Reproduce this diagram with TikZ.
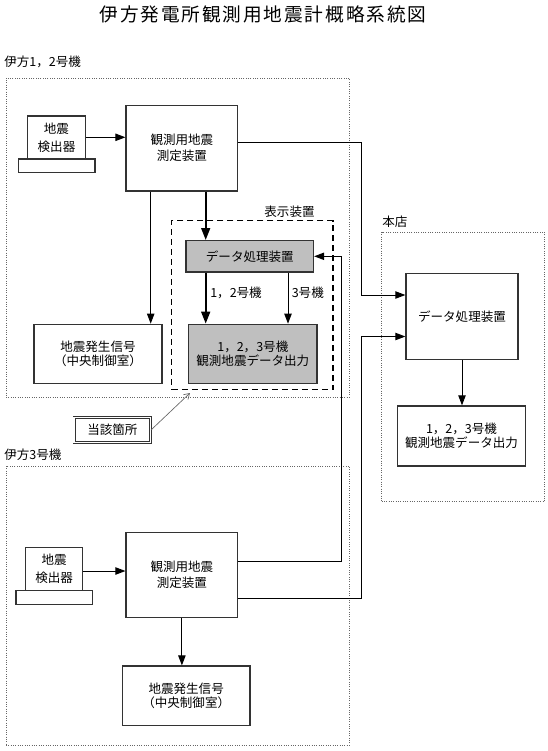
\documentclass[tikz,border=0pt]{standalone}
\usepackage{fontspec}
\setmainfont{Noto Sans CJK JP}
\newfontfamily\titlefont[LetterSpace=10]{Noto Sans CJK JP}
\usetikzlibrary{arrows.meta}
\def\upx{0.75pt}
\tikzset{
  box/.style={draw=black!80, line width=0.9pt, fill=white, align=center, inner sep=0pt,
    font=\fontsize{9.4}{12}\selectfont},
  graybox/.style={box, fill=gray!50},
  zone/.style={draw=black!60, densely dotted, line width=0.75pt},
  dispzone/.style={draw=black, dash pattern=on 4.5pt off 3pt, line width=0.9pt},
  arr/.style={line width=0.75pt, -{Triangle[length=7.5pt,width=5.5pt]}},
  thickarr/.style={line width=1.7pt, -{Triangle[length=9pt,width=6.5pt]}},
  lab/.style={font=\fontsize{9.4}{12}\selectfont, inner sep=0pt},
  pointer/.style={draw=black!60, line width=0.5pt, -{Straight Barb[length=4pt,width=5pt]}},
}
\begin{document}
\begin{tikzpicture}[x=0.75pt,y=-0.75pt]
\useasboundingbox (0,0) rectangle (548,751);

% title
\node[inner sep=0pt] (title) at (263,14) {\titlefont\fontsize{14}{16}\selectfont 伊方発電所観測用地震計概略系統図};

% zones
\node[zone, minimum width=343.5*\upx, minimum height=319*\upx] (zone12) at (177.75,237.5) {};
\node[zone, minimum width=343.5*\upx, minimum height=279*\upx] (zone3) at (177.75,605.5) {};
\node[zone, minimum width=163*\upx, minimum height=269.4*\upx] (zonehq) at (463.2,367) {};
\node[dispzone, minimum width=161.3*\upx, minimum height=169*\upx] (zonedisp) at (252.4,305.1) {};

% labels
\node[lab, anchor=west] (lab12) at (4,62) {伊方1，2号機};
\node[lab, anchor=west] (lab3) at (4,455) {伊方3号機};
\node[lab] (labdisp) at (289.5,211.3) {表示装置};
\node[lab, anchor=west] (labhq) at (382,222) {本店};

% unit 1,2
\node[box, minimum width=57.6*\upx, minimum height=43*\upx, font=\fontsize{9.4}{13.5}\selectfont] (det1) at (56.5,137.5) {地震\\検出器};
\node[box, minimum width=76.7*\upx, minimum height=13.7*\upx] (base1) at (56.6,165.9) {};
\node[box, minimum width=111.7*\upx, minimum height=85.7*\upx] (meas1) at (181.9,148.2) {観測用地震\\測定装置};
\node[box, minimum width=128*\upx, minimum height=59*\upx, font=\fontsize{9.4}{10.5}\selectfont] (sig1) at (98,353.8) {地震発生信号\\（中央制御室）};
\node[graybox, minimum width=127.5*\upx, minimum height=31.3*\upx] (dp1) at (249.8,256.3) {データ処理装置};
\node[graybox, minimum width=128.4*\upx, minimum height=59*\upx, font=\fontsize{9.4}{10.5}\selectfont] (out1) at (252.8,353.8) {1，2，3号機\\観測地震データ出力};
\node[lab, anchor=west] (lab12b) at (210,293) {1，2号機};
\node[lab, anchor=west] (lab3b) at (291.5,293) {3号機};

% target marker
\node[draw=black!80, double, line width=0.6pt, double distance=1.2pt, minimum width=76.4*\upx, minimum height=25*\upx, inner sep=0pt, font=\fontsize{9.4}{12}\selectfont] (target) at (112.4,430) {当該箇所};
\coordinate (targettip) at (190,393);

% head office
\node[box, minimum width=112*\upx, minimum height=86*\upx] (hdp) at (462,316.5) {データ処理装置};
\node[box, minimum width=127.7*\upx, minimum height=60*\upx, font=\fontsize{9.4}{10.5}\selectfont] (hout) at (461.5,436) {1，2，3号機\\観測地震データ出力};

% unit 3
\node[box, minimum width=57*\upx, minimum height=43.4*\upx, font=\fontsize{9.4}{13.5}\selectfont] (det3) at (54.2,569) {地震\\検出器};
\node[box, minimum width=76.3*\upx, minimum height=13.6*\upx] (base3) at (54.2,597.5) {};
\node[box, minimum width=111.7*\upx, minimum height=85.4*\upx] (meas3) at (181.9,575) {観測用地震\\測定装置};
\node[box, minimum width=127.7*\upx, minimum height=59.7*\upx, font=\fontsize{9.4}{10.5}\selectfont] (sig3) at (186.2,695.9) {地震発生信号\\（中央制御室）};

% connectors unit 1,2
\draw[arr] (det1.east |- 0,137.3) -- (meas1.west |- 0,137.3);
\draw[arr] (meas1.south -| 150.7,0) -- (sig1.north -| 150.7,0);
\draw[thickarr] (meas1.south -| 205.7,0) -- (dp1.north -| 205.7,0);
\draw[thickarr] (dp1.south -| 205.7,0) -- (out1.north -| 205.7,0);
\draw[arr] (dp1.south -| 288,0) -- (out1.north -| 288,0);
\draw[arr] (meas1.east |- 0,142.7) -- (361,142.7) -- (361,295) -- (hdp.west |- 0,295);

% connectors unit 3
\draw[arr] (det3.east |- 0,571) -- (meas3.west |- 0,571);
\draw[arr] (meas3.south) -- (sig3.north -| meas3.south);
\draw[arr] (meas3.east |- 0,561) -- (341.5,561) -- (341.5,256.3) -- (dp1.east |- 0,256.3);
\draw[arr] (meas3.east |- 0,598.3) -- (361,598.3) -- (361,336.5) -- (hdp.west |- 0,336.5);

% head office
\draw[arr] (hdp.south) -- (hout.north -| hdp.south);

% pointer
\draw[pointer] (target.east) -- (targettip);
\end{tikzpicture}
\end{document}
